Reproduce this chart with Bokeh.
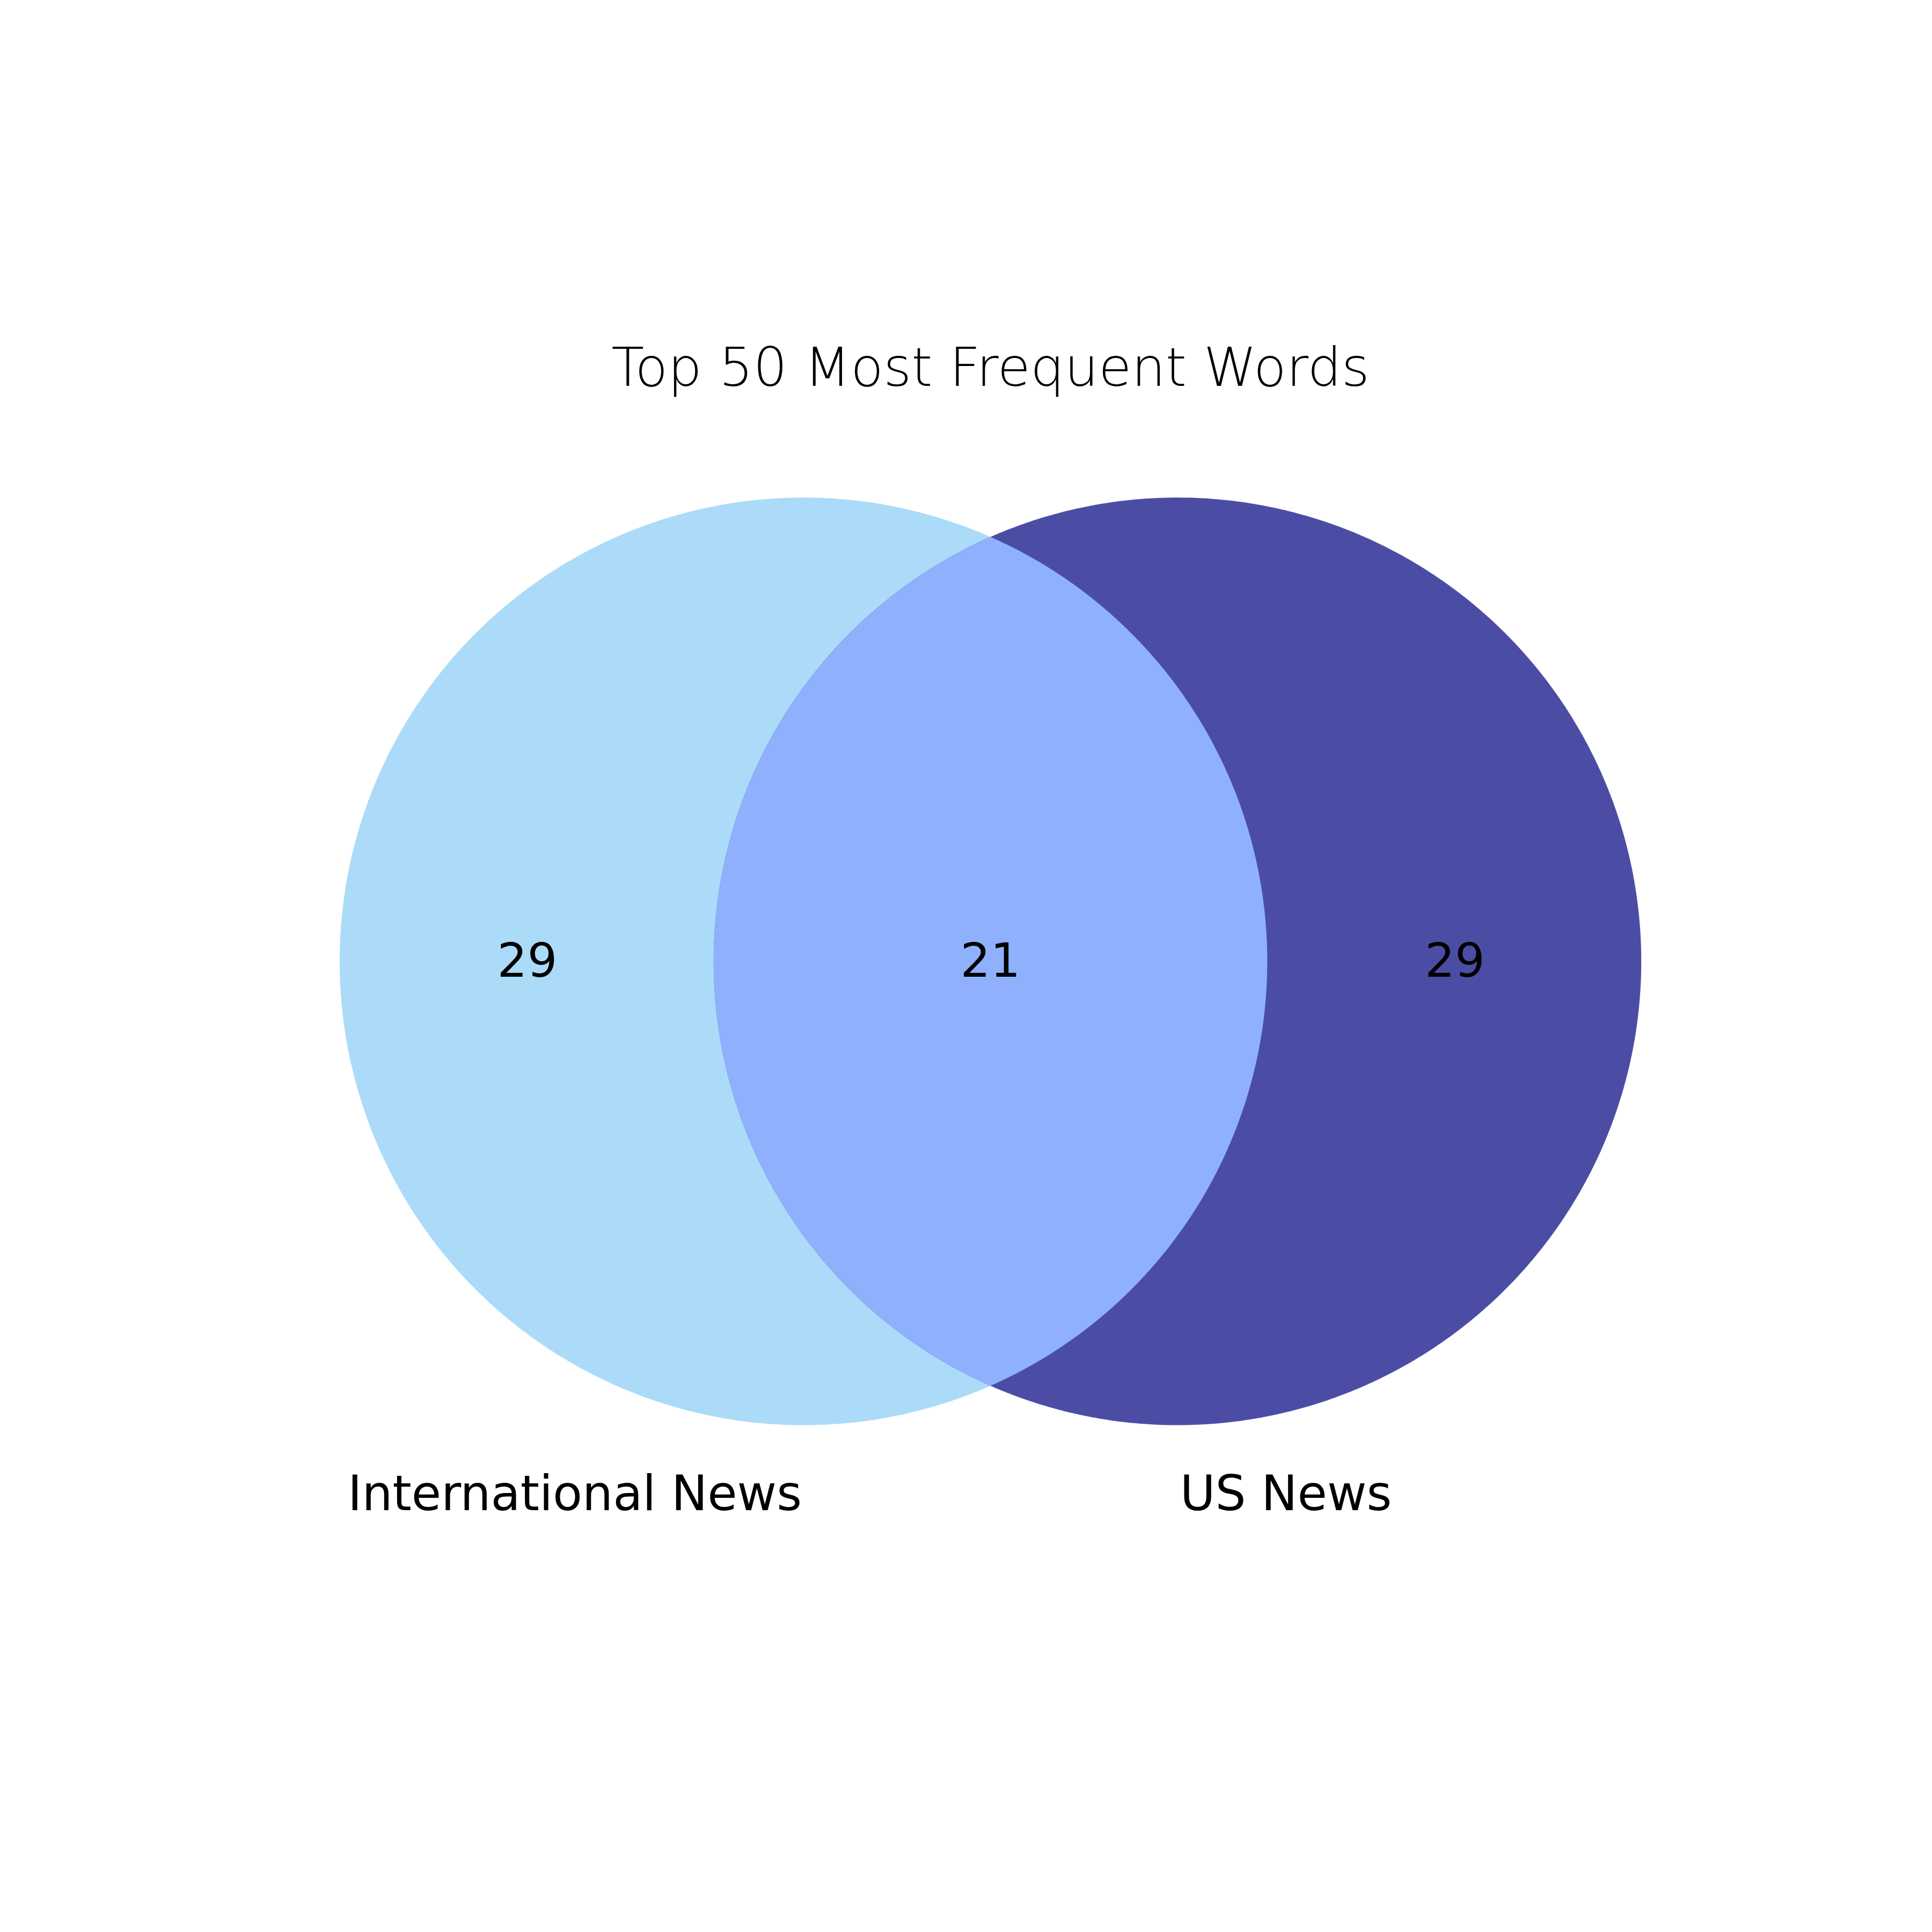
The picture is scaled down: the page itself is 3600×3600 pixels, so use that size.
import numpy as np
from bokeh.plotting import figure
from bokeh.models import Range1d
from bokeh.core.properties import value
from bokeh.embed import file_html
from bokeh.resources import INLINE

# set sizes and labels
set_names = ["International News", "US News"]
only_counts = [29, 29]
shared_count = 21
set_colors = ["#abdbf9", "#4b4da5"]
shared_color = "#8fb1fd"
title_str = "Top 50 Most Frequent Words"

# layout: measured on a 1560px preview, scaled up to the 3600px page
s = 3600 / 1560
W = H = 3584


def px(v):
    return v * s - 8


def py(v):
    return 3592 - v * s


centers_x = [px(652), px(954)]
center_y = py(779.5)
radius = 374.5 * s

p = figure(width=W, height=H, output_backend="svg", toolbar_location=None,
           x_range=Range1d(0, W), y_range=Range1d(0, H), min_border=0)
p.axis.visible = False
p.grid.visible = False
p.outline_line_color = None

t = np.linspace(0, 2 * np.pi, 720)
for cx, col in zip(centers_x, set_colors):
    p.patch(cx + radius * np.cos(t), center_y + radius * np.sin(t),
            fill_color=col, line_color=None)

# lens for the overlap
d = centers_x[1] - centers_x[0]
half = np.arccos(d / 2 / radius)
t1 = np.linspace(-half, half, 300)
t2 = np.linspace(np.pi - half, np.pi + half, 300)
lx = np.concatenate([centers_x[0] + radius * np.cos(t1), centers_x[1] + radius * np.cos(t2)])
ly = np.concatenate([center_y + radius * np.sin(t1), center_y + radius * np.sin(t2)])
p.patch(lx, ly, fill_color=shared_color, line_color=None)

font = value("DejaVu Sans")
p.text(x=[px(429), px(803), px(1178)], y=[py(778)] * 3,
       text=[str(only_counts[0]), str(shared_count), str(only_counts[1])],
       text_font=font, text_font_size="88px", text_align="center",
       text_baseline="middle", text_color="black")
p.text(x=[px(284), px(956)], y=[py(1209)] * 2, text=set_names, text_font=font,
       text_font_size="90px", text_align="left", text_baseline="middle",
       text_color="black")
p.text(x=[px(803)], y=[py(300)], text=[title_str], text_font=font,
       text_font_size="100px", text_align="center", text_baseline="middle",
       text_color="black")

open("out.html", "w").write(file_html(p, INLINE))
